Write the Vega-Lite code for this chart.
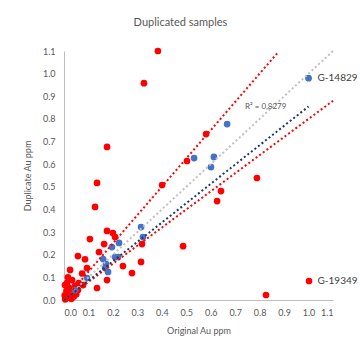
{
  "$schema": "https://vega.github.io/schema/vega-lite/v6.json",
  "width": 269,
  "height": 249,
  "autosize": {"type": "none"},
  "padding": {"left": 64, "top": 51, "right": 27, "bottom": 60},
  "background": "white",
  "title": {"text": "Duplicated samples", "fontSize": 11, "font": "Lato", "fontWeight": "normal", "color": "#595959", "anchor": "middle", "dx": -18, "offset": 19},
  "config": {
    "view": {"stroke": null},
    "font": "Lato",
    "axis": {"grid": false, "ticks": false, "domainColor": "#bfbfbf", "domainWidth": 1, "labelColor": "#595959", "labelFontSize": 9, "labelFont": "Lato", "titleColor": "#595959", "titleFontSize": 9, "titleFont": "Lato", "titleFontWeight": "normal"}
  },
  "datasets": {
    "pts": [
      {"x": 0.384, "y": 1.10, "group": "dup"},
      {"x": 0.327, "y": 0.958, "group": "dup"},
      {"x": 0.176, "y": 0.676, "group": "dup"},
      {"x": 0.581, "y": 0.733, "group": "dup"},
      {"x": 0.503, "y": 0.614, "group": "dup"},
      {"x": 0.401, "y": 0.508, "group": "dup"},
      {"x": 0.789, "y": 0.539, "group": "dup"},
      {"x": 0.642, "y": 0.481, "group": "dup"},
      {"x": 0.626, "y": 0.437, "group": "dup"},
      {"x": 0.487, "y": 0.238, "group": "dup"},
      {"x": 1.002, "y": 0.084, "group": "dup"},
      {"x": 0.826, "y": 0.022, "group": "dup"},
      {"x": 0.319, "y": 0.247, "group": "dup"},
      {"x": 0.315, "y": 0.168, "group": "dup"},
      {"x": 0.278, "y": 0.119, "group": "dup"},
      {"x": 0.241, "y": 0.150, "group": "dup"},
      {"x": 0.176, "y": 0.088, "group": "dup"},
      {"x": 0.164, "y": 0.247, "group": "dup"},
      {"x": 0.176, "y": 0.305, "group": "dup"},
      {"x": 0.200, "y": 0.296, "group": "dup"},
      {"x": 0.209, "y": 0.278, "group": "dup"},
      {"x": 0.135, "y": 0.517, "group": "dup"},
      {"x": 0.127, "y": 0.411, "group": "dup"},
      {"x": 0.106, "y": 0.269, "group": "dup"},
      {"x": 0.143, "y": 0.212, "group": "dup"},
      {"x": 0.057, "y": 0.194, "group": "dup"},
      {"x": 0.086, "y": 0.180, "group": "dup"},
      {"x": 0.094, "y": 0.141, "group": "dup"},
      {"x": 0.074, "y": 0.117, "group": "dup"},
      {"x": 0.025, "y": 0.133, "group": "dup"},
      {"x": 0.016, "y": 0.100, "group": "dup"},
      {"x": 0.135, "y": 0.053, "group": "dup"},
      {"x": 0.033, "y": 0.088, "group": "dup"},
      {"x": 0.004, "y": 0.066, "group": "dup"},
      {"x": 0.045, "y": 0.062, "group": "dup"},
      {"x": 0.078, "y": 0.066, "group": "dup"},
      {"x": 0.057, "y": 0.044, "group": "dup"},
      {"x": 0.025, "y": 0.022, "group": "dup"},
      {"x": 0.010, "y": 0.040, "group": "dup"},
      {"x": 0.020, "y": 0.055, "group": "dup"},
      {"x": 0.035, "y": 0.035, "group": "dup"},
      {"x": 0.040, "y": 0.015, "group": "dup"},
      {"x": 0.015, "y": 0.010, "group": "dup"},
      {"x": 0.005, "y": 0.003, "group": "dup"},
      {"x": 0.030, "y": 0.005, "group": "dup"},
      {"x": 0.050, "y": 0.025, "group": "dup"},
      {"x": 0.060, "y": 0.075, "group": "dup"},
      {"x": 0.012, "y": 0.075, "group": "dup"},
      {"x": 0.003, "y": 0.020, "group": "dup"},
      {"x": 1.000, "y": 0.980, "group": "std"},
      {"x": 0.667, "y": 0.777, "group": "std"},
      {"x": 0.532, "y": 0.627, "group": "std"},
      {"x": 0.613, "y": 0.632, "group": "std"},
      {"x": 0.601, "y": 0.587, "group": "std"},
      {"x": 0.315, "y": 0.322, "group": "std"},
      {"x": 0.323, "y": 0.278, "group": "std"},
      {"x": 0.225, "y": 0.252, "group": "std"},
      {"x": 0.196, "y": 0.234, "group": "std"},
      {"x": 0.160, "y": 0.181, "group": "std"},
      {"x": 0.172, "y": 0.159, "group": "std"},
      {"x": 0.209, "y": 0.190, "group": "std"},
      {"x": 0.221, "y": 0.190, "group": "std"},
      {"x": 0.168, "y": 0.141, "group": "std"},
      {"x": 0.094, "y": 0.097, "group": "std"},
      {"x": 0.180, "y": 0.124, "group": "std"},
      {"x": 0.045, "y": 0.044, "group": "std"}
    ],
    "lines": [
      {"line": "one", "x": 0, "y": 0},
      {"line": "one", "x": 1.1, "y": 1.1},
      {"line": "upper", "x": 0, "y": 0},
      {"line": "upper", "x": 0.875, "y": 1.094},
      {"line": "lower", "x": 0, "y": 0},
      {"line": "lower", "x": 1.1, "y": 0.88},
      {"line": "trend", "x": 0, "y": 0},
      {"line": "trend", "x": 1.0, "y": 0.855}
    ],
    "labels": [
      {"x": 1.0, "y": 0.98, "label": "G-14829"},
      {"x": 1.0, "y": 0.084, "label": "G-19349"}
    ],
    "r2": [
      {"x": 0.74, "y": 0.853, "label": "R² = 0,8279"}
    ]
  },
  "encoding": {
    "x": {"field": "x", "type": "quantitative", "title": "Original Au ppm",
      "scale": {"domain": [0, 1.1], "nice": false},
      "axis": {"values": [0, 0.1, 0.2, 0.3, 0.4, 0.5, 0.6, 0.7, 0.8, 0.9, 1.0, 1.1], "format": ".1f", "labelPadding": 8, "titlePadding": 9}},
    "y": {"field": "y", "type": "quantitative", "title": "Duplicate Au ppm",
      "scale": {"domain": [0, 1.1], "nice": false},
      "axis": {"values": [0, 0.1, 0.2, 0.3, 0.4, 0.5, 0.6, 0.7, 0.8, 0.9, 1.0, 1.1], "format": ".1f", "labelPadding": 9, "titlePadding": 10}}
  },
  "layer": [
    {
      "data": {"name": "pts"},
      "transform": [{"filter": "datum.group === 'dup'"}],
      "mark": {"type": "point", "filled": true, "opacity": 1, "size": 45, "color": "#ff0000"}
    },
    {
      "data": {"name": "pts"},
      "transform": [{"filter": "datum.group === 'std'"}],
      "mark": {"type": "point", "filled": true, "opacity": 1, "size": 45, "color": "#4472c4"}
    },
    {
      "data": {"name": "lines"},
      "mark": {"type": "line", "strokeWidth": 2, "strokeDash": [2, 2.5]},
      "encoding": {
        "detail": {"field": "line"},
        "color": {"field": "line", "type": "nominal", "legend": null,
          "scale": {"domain": ["one", "upper", "lower", "trend"], "range": ["#c0c0c0", "#ff0000", "#ff0000", "#203864"]}}
      }
    },
    {
      "data": {"name": "labels"},
      "mark": {"type": "text", "align": "left", "dx": 9, "fontSize": 10, "color": "#404040", "font": "Lato"},
      "encoding": {"text": {"field": "label"}}
    },
    {
      "data": {"name": "r2"},
      "mark": {"type": "text", "align": "left", "fontSize": 8, "color": "#595959", "font": "Lato"},
      "encoding": {"text": {"field": "label"}}
    }
  ]
}
